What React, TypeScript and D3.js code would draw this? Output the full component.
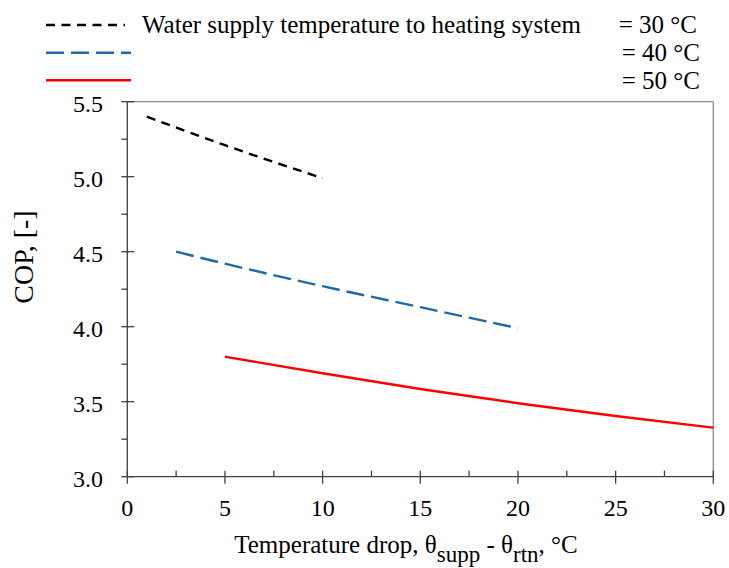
import React from "react";
import * as d3 from "d3";

const xTicks = [0, 5, 10, 15, 20, 25, 30];
const yTicks = [3.0, 3.5, 4.0, 4.5, 5.0, 5.5];

const s30x = [1, 5, 10];
const s30y = [5.4, 5.21, 4.99];
const s40x = [2.5, 5, 10, 15, 20];
const s40y = [4.5, 4.42, 4.27, 4.13, 3.99];
const s50x = [5, 10, 15, 20, 25, 30];
const s50y = [3.8, 3.69, 3.585, 3.49, 3.405, 3.327];

const legendLabels = ["= 30 °C", "= 40 °C", "= 50 °C"];

const W = 729, H = 568;
const L = 127.3, R = 713.3, T = 101.7, B = 476.7;
const FONT = "Liberation Serif, Times New Roman, Times, serif";

export default function App() {
  const x = d3.scaleLinear().domain([0, 30]).range([L, R]);
  const y = d3.scaleLinear().domain([3, 5.5]).range([B, T]);
  const line = d3
    .line<[number, number]>()
    .x((d) => x(d[0]))
    .y((d) => y(d[1]))
    .curve(d3.curveMonotoneX);
  const zip = (a: number[], b: number[]) => a.map((v, i) => [v, b[i]] as [number, number]);
  const series = [
    { d: zip(s30x, s30y), color: "#000000", dash: "9,6.5" },
    { d: zip(s40x, s40y), color: "#1f6aa5", dash: "18,7" },
    { d: zip(s50x, s50y), color: "#ff0000", dash: "" },
  ];
  const xMinor = d3.range(2.5, 30, 5);
  const yMinor = d3.range(3.25, 5.5, 0.5);
  const legendY = [25, 52.7, 80.3];
  const legendTextY = [32.5, 60.5, 88.5];

  return (
    <svg
      width={W}
      height={H}
      style={{ position: "absolute", left: 0, top: 0, background: "#fff", fontFamily: FONT }}
    >
      {/* frame */}
      <line x1={L} y1={T} x2={R} y2={T} stroke="#8c8c8c" strokeWidth={1.3} />
      <line x1={R} y1={T} x2={R} y2={B} stroke="#8c8c8c" strokeWidth={1.3} />
      <line x1={L} y1={T} x2={L} y2={B} stroke="#404040" strokeWidth={1.3} />
      <line x1={L} y1={B} x2={R} y2={B} stroke="#404040" strokeWidth={1.3} />
      {/* y ticks */}
      {yTicks.map((t) => (
        <g key={"yt" + t}>
          <line x1={L - 6} x2={L + 7} y1={y(t)} y2={y(t)} stroke="#404040" strokeWidth={1.3} />
          <text x={103} y={y(t) + 2} dy="0.33em" textAnchor="end" fontSize={24} fill="#000">
            {t.toFixed(1)}
          </text>
        </g>
      ))}
      {yMinor.map((t) => (
        <line key={"ym" + t} x1={L - 6} x2={L} y1={y(t)} y2={y(t)} stroke="#404040" strokeWidth={1.3} />
      ))}
      {/* x ticks */}
      {xTicks.map((t) => (
        <g key={"xt" + t}>
          <line x1={x(t)} x2={x(t)} y1={B - 6} y2={B + 7} stroke="#404040" strokeWidth={1.3} />
          <text x={x(t)} y={516} textAnchor="middle" fontSize={24} fill="#000">
            {t}
          </text>
        </g>
      ))}
      {xMinor.map((t) => (
        <line key={"xm" + t} x1={x(t)} x2={x(t)} y1={B - 6} y2={B} stroke="#404040" strokeWidth={1.3} />
      ))}
      {/* series */}
      {series.map((s, i) => (
        <path
          key={"s" + i}
          d={line(s.d) || ""}
          fill="none"
          stroke={s.color}
          strokeWidth={2.4}
          strokeDasharray={s.dash || undefined}
        />
      ))}
      {/* axis titles */}
      <text x={406} y={553} textAnchor="middle" fontSize={25} fill="#000">
        Temperature drop, θ
        <tspan fontSize={23} dy={9}>supp</tspan>
        <tspan dy={-9}> - θ</tspan>
        <tspan fontSize={23} dy={9}>rtn</tspan>
        <tspan dy={-9}>, °C</tspan>
      </text>
      <text
        transform={`translate(33,257) rotate(-90)`}
        textAnchor="middle"
        fontSize={28}
        fill="#000"
      >
        COP, [-]
      </text>
      {/* legend */}
      {series.map((s, i) => (
        <line
          key={"lg" + i}
          x1={46}
          x2={i === 0 ? 125 : 131}
          y1={legendY[i]}
          y2={legendY[i]}
          stroke={s.color}
          strokeWidth={2.4}
          strokeDasharray={s.dash || undefined}
        />
      ))}
      <text x={142} y={legendTextY[0]} fontSize={25} fill="#000">
        Water supply temperature to heating system
      </text>
      {legendLabels.map((lab, i) => (
        <text key={"ll" + i} x={i === 0 ? 697 : 700} y={legendTextY[i]} textAnchor="end" fontSize={25} fill="#000">
          {lab}
        </text>
      ))}
    </svg>
  );
}
